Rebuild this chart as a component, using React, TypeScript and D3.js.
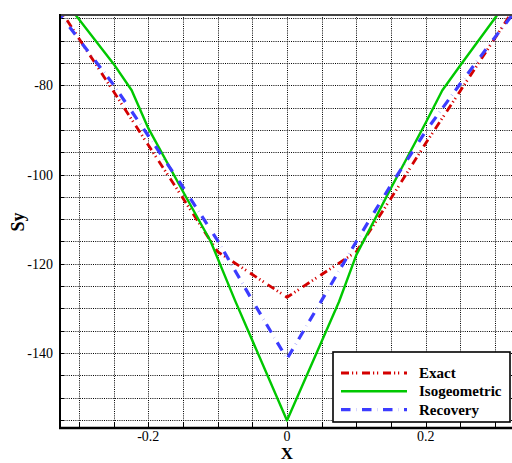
import React from "react";
import * as d3 from "d3";

const exactX = [-0.35, -0.3, -0.25, -0.2, -0.15, -0.1, -0.05, 0, 0.05, 0.1, 0.15, 0.2, 0.25, 0.3, 0.35];
const exactY = [-57.5, -69.5, -81.4, -93.4, -105.3, -117.3, -122.4, -127.5, -122.4, -117.3, -105.3, -93.0, -81.2, -69.4, -57.5];

const isoX = [-0.33, -0.3, -0.25, -0.224, -0.2, -0.15, -0.11, -0.075, 0, 0.075, 0.1, 0.15, 0.2, 0.224, 0.25, 0.3, 0.33];
const isoY = [-59.3, -65.2, -75.2, -81.1, -89.6, -103.8, -115.0, -128.2, -155.1, -128.5, -118.0, -103.0, -88.4, -81.1, -75.5, -64.9, -58.5];

const recX = [-0.35, -0.3, -0.25, -0.2, -0.15, -0.1, -0.05, 0, 0.05, 0.1, 0.15, 0.2, 0.25, 0.3, 0.35];
const recY = [-59.4, -69.7, -79.9, -91.3, -102.8, -114.8, -128.2, -141.3, -128.2, -115.0, -102.3, -90.3, -79.6, -69.2, -59.2];

const xTickLabels = [-0.2, 0, 0.2];
const yTickLabels = [-80, -100, -120, -140];
const xGrid = [-0.3, -0.25, -0.2, -0.15, -0.1, -0.05, 0, 0.05, 0.1, 0.15, 0.2, 0.25, 0.3];
const yGrid = [-155, -150, -145, -140, -135, -130, -125, -120, -115, -110, -105, -100, -95, -90, -85, -80, -75, -70, -65];

const seriesNames = ["Exact", "Isogeometric", "Recovery"];

const W = 512;
const H = 463;
const L = 60, R = 514, T = 15, B = 428;

export default function App() {
  const x = d3.scaleLinear().domain([-0.3273, 0.3273]).range([L, R]);
  const y = d3.scaleLinear().domain([-156.8, -64.24]).range([B, T]);
  const line = d3
    .line<[number, number]>()
    .x((d) => x(d[0]))
    .y((d) => y(d[1]));

  const exact = exactX.map((v, i) => [v, exactY[i]] as [number, number]);
  const iso = isoX.map((v, i) => [v, isoY[i]] as [number, number]);
  const rec = recX.map((v, i) => [v, recY[i]] as [number, number]);

  const red = "#d40000";
  const green = "#00c800";
  const blue = "#3c3cff";
  const exactDash = "8,3,1.2,2.8,1.2,4.8";
  const recDash = "9.5,5.8,0.2,5.5";

  const styles = [
    { stroke: red, dash: exactDash, w: 2.8 },
    { stroke: green, dash: undefined, w: 2.4 },
    { stroke: blue, dash: recDash, w: 3.2 },
  ];

  const lg = { x: 333, y: 352, w: 177, h: 70 };

  return (
    <div style={{ position: "absolute", left: 0, top: 0 }}>
      <svg width={W} height={H} style={{ display: "block" }} fontFamily="'Liberation Serif', 'Times New Roman', serif">
        <defs>
          <clipPath id="plot">
            <rect x={L} y={T} width={R - L} height={B - T} />
          </clipPath>
        </defs>
        <rect x={0} y={0} width={W} height={H} fill="#fff" />
        {/* grid */}
        <g stroke="#000" strokeWidth={1} strokeDasharray="1,1.2">
          {xGrid.map((g) => (
            <line key={"gx" + g} x1={Math.round(x(g)) + 0.5} x2={Math.round(x(g)) + 0.5} y1={T} y2={B} />
          ))}
          {yGrid.map((g) => (
            <line key={"gy" + g} x1={L} x2={R} y1={Math.round(y(g)) + 0.5} y2={Math.round(y(g)) + 0.5} />
          ))}
        </g>
        {/* ticks */}
        <g stroke="#000" strokeWidth={1}>
          {xGrid.map((g) => (
            <line key={"tx" + g} x1={Math.round(x(g)) + 0.5} x2={Math.round(x(g)) + 0.5} y1={B} y2={B - 5} />
          ))}
          {yGrid.map((g) => (
            <line key={"ty" + g} x1={L} x2={L + 4} y1={Math.round(y(g)) + 0.5} y2={Math.round(y(g)) + 0.5} />
          ))}
        </g>
        {/* series */}
        <g clipPath="url(#plot)" fill="none" strokeLinejoin="round">
          <path d={line(exact) || ""} stroke={red} strokeWidth={styles[0].w} strokeDasharray={exactDash} />
          <path d={line(iso) || ""} stroke={green} strokeWidth={styles[1].w} />
          <path d={line(rec) || ""} stroke={blue} strokeWidth={styles[2].w} strokeDasharray={recDash} />
        </g>
        {/* frame */}
        <line x1={L} x2={R} y1={T} y2={T} stroke="#444" strokeWidth={2} />
        <line x1={L} x2={L} y1={T - 1} y2={B + 1} stroke="#000" strokeWidth={2} />
        <line x1={L - 1} x2={R} y1={B} y2={B} stroke="#000" strokeWidth={2.5} />
        {/* tick labels */}
        <g fontSize={14} fill="#000">
          {xTickLabels.map((t) => (
            <text key={"xl" + t} x={x(t)} y={441} textAnchor="middle">
              {t === 0 ? "0" : String(t)}
            </text>
          ))}
          {yTickLabels.map((t) => (
            <text key={"yl" + t} x={53} y={y(t) + 5} textAnchor="end">
              {String(t)}
            </text>
          ))}
        </g>
        {/* axis titles */}
        <text x={287} y={459} textAnchor="middle" fontSize={17} fontWeight="bold">
          X
        </text>
        <text transform="translate(24,222) rotate(-90)" textAnchor="middle" fontSize={18} fontWeight="bold">
          Sy
        </text>
        {/* legend */}
        <rect x={lg.x} y={lg.y} width={lg.w} height={lg.h} fill="#fff" stroke="#000" strokeWidth={1.6} />
        {seriesNames.map((n, i) => {
          const yy = 373 + i * 18.3;
          return (
            <g key={n}>
              <line
                x1={341}
                x2={407}
                y1={yy}
                y2={yy}
                stroke={styles[i].stroke}
                strokeWidth={styles[i].w}
                strokeDasharray={styles[i].dash}
              />
              <text x={419} y={yy + 5} fontSize={15} fontWeight="bold">
                {n}
              </text>
            </g>
          );
        })}
      </svg>
    </div>
  );
}
